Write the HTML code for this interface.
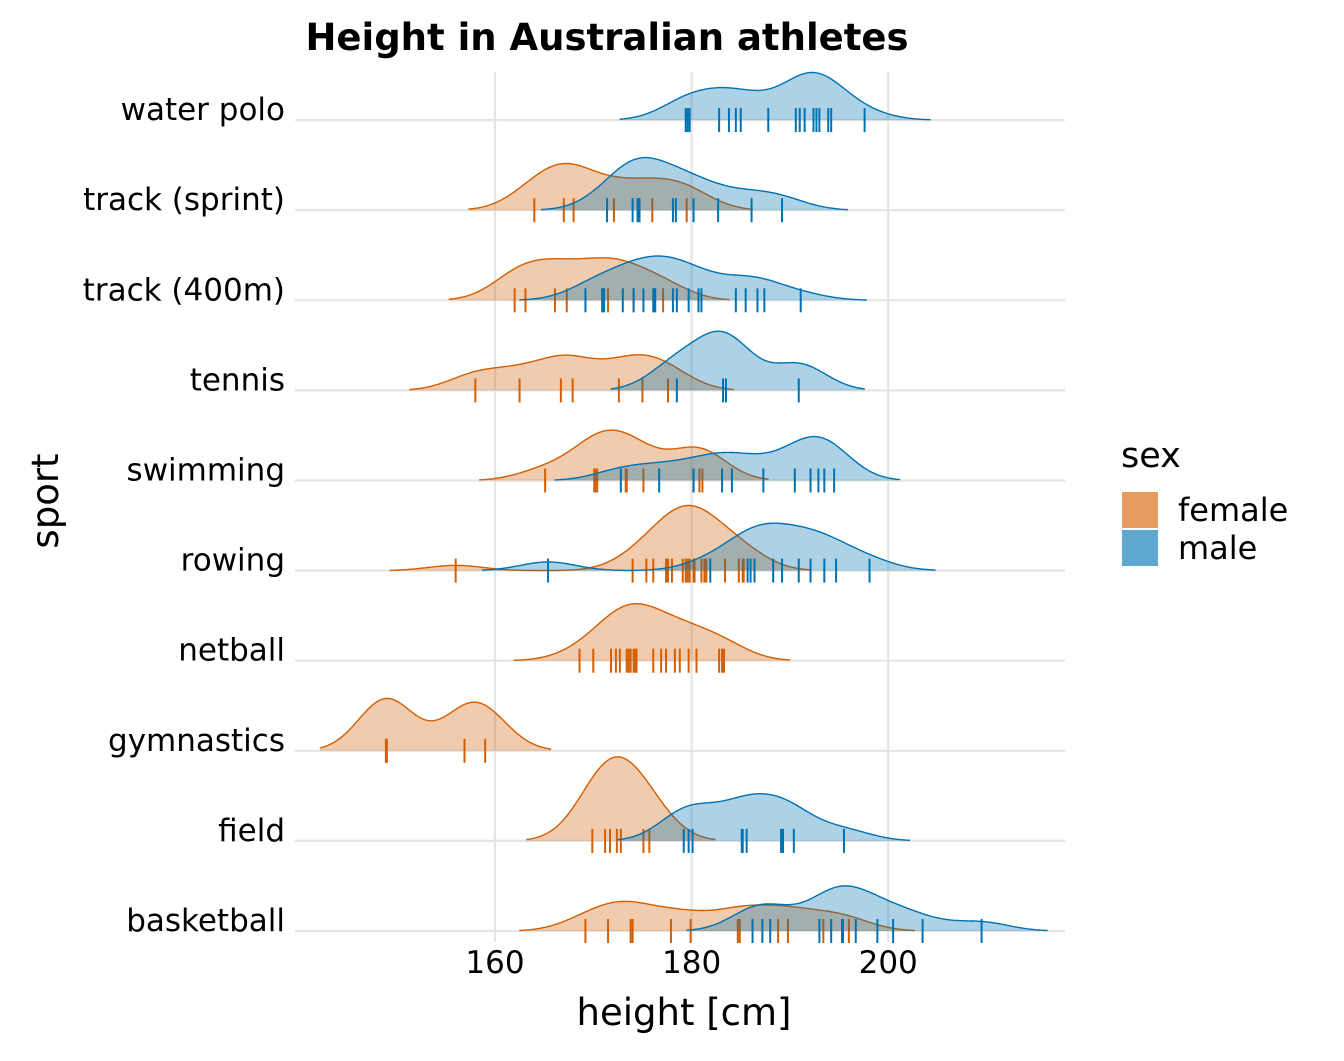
<!DOCTYPE html>
<html><head><meta charset="utf-8">
<style>
html,body{margin:0;padding:0;background:#fff;}
svg text{font-family:"DejaVu Sans","Liberation Sans",sans-serif;}
</style></head>
<body>
<svg id="chart" width="1344" height="1056" viewBox="0 0 1344 1056" xmlns="http://www.w3.org/2000/svg">
<rect width="1344" height="1056" fill="#fff"/>
<g id="grid"></g>
<g id="ridges"></g>
<g id="labels"></g>
<text x="607" y="50" text-anchor="middle" font-size="37" font-weight="bold">Height in Australian athletes</text>
<text x="684" y="1025" text-anchor="middle" font-size="37">height [cm]</text>
<text transform="translate(58,501) rotate(-90)" text-anchor="middle" font-size="37">sport</text>
<g>
<text x="1121" y="467" font-size="35">sex</text>
<rect x="1122" y="492" width="36" height="36" fill="#E69B5F"/>
<rect x="1122" y="530" width="36" height="36" fill="#5FA8D0"/>
<text x="1178" y="521" font-size="32">female</text>
<text x="1178" y="559" font-size="32">male</text>
</g>
</svg>
<script>
const sports = ["basketball","field","gymnastics","netball","rowing","swimming","tennis","track (400m)","track (sprint)","water polo"];
const xTicks = [160,180,200];
const female = [
 [169.2,171.5,173.8,174.0,177.9,179.9,184.7,184.9,188.8,189.8,193.4,196.0],
 [169.9,171.2,171.7,172.4,172.8,175.1,175.7],
 [148.9,149.0,156.9,159.0],
 [168.6,170.0,171.8,172.3,172.7,173.4,173.6,173.8,174.1,174.3,174.4,176.1,176.9,177.4,178.3,178.8,179.7,180.5,182.8,183.1,183.3],
 [156.0,174.0,175.4,176.1,177.4,177.6,178.0,179.1,179.4,179.6,179.8,180.2,180.3,181.0,181.3,181.5,183.4,184.8,185.2,185.3],
 [165.1,170.1,170.2,170.4,173.3,173.4,175.1,180.2,180.8,181.1],
 [158.0,162.5,166.7,167.9,172.6,175.0,177.6],
 [162.0,163.1,166.1,167.3,171.0,171.5,174.1,177.1],
 [164.0,167.0,168.0,172.1,176.0,179.5],
 []
];
const male = [
 [186.2,187.2,188.0,193.0,194.2,195.3,195.4,196.7,198.9,200.5,203.5,209.5],
 [179.2,179.7,180.1,185.1,185.2,185.6,189.1,189.3,190.4,195.5],
 [],
 [],
 [165.4,181.9,185.7,186.0,186.4,188.3,189.2,190.9,192.1,193.5,194.7,198.1],
 [172.8,176.7,180.2,183.1,184.1,187.3,190.5,192.1,192.9,193.5,194.5],
 [178.5,183.2,183.5,190.9],
 [169.2,170.9,171.1,173.0,174.1,175.1,176.1,176.2,176.3,178.1,178.5,179.7,180.7,181.0,184.5,185.5,186.7,187.4,191.1],
 [171.4,174.0,174.5,174.6,174.7,178.1,178.4,180.2,182.7,186.1,189.2],
 [179.4,179.6,179.8,182.8,183.8,184.5,185.0,187.8,190.6,191.0,191.5,192.4,192.7,193.0,193.9,194.2,197.6]
];
const bw = 2.8;
const cut = 2.4;
const NS="http://www.w3.org/2000/svg";
const xScale = v => 495 + (v-160)*9.83;
const yBase = i => 931 - i*90.1;
function kde(d, x){let s=0;for(const v of d){const z=(x-v)/bw;s+=Math.exp(-0.5*z*z);}return s/(d.length*bw*Math.sqrt(2*Math.PI));}
function mk(tag, attrs, parent){const e=document.createElementNS(NS,tag);for(const k in attrs)e.setAttribute(k,attrs[k]);parent.appendChild(e);return e;}
const grid=document.getElementById('grid'), ridges=document.getElementById('ridges'), labels=document.getElementById('labels');
let maxD=0;
[female,male].forEach(S=>S.forEach(d=>{if(!d.length)return;const lo=Math.min(...d)-cut*bw,hi=Math.max(...d)+cut*bw;for(let x=lo;x<=hi;x+=0.2)maxD=Math.max(maxD,kde(d,x));}));
const hScale = 84/maxD;
xTicks.forEach(t=>{
 const l=mk('line',{x1:xScale(t),x2:xScale(t),y1:72,y2:942,stroke:'#e5e5e5','stroke-width':2.2},grid);
 
 
 const tx=mk('text',{x:xScale(t),y:973,'text-anchor':'middle','font-size':31,fill:'#000'},labels);
 
 
 tx.textContent=t;
});
sports.forEach((s,i)=>{
 const y=yBase(i);
 const l=mk('line',{x1:295,x2:1065,y1:y,y2:y,stroke:'#e5e5e5','stroke-width':2.2},grid);
 
 
 const tx=mk('text',{x:285,y:y,'text-anchor':'end','font-size':31,fill:'#000'},labels);
 
 
 tx.textContent=s;
});
function drawRidge(d,i,fill,stroke,name){
 if(!d.length)return;
 const y=yBase(i);
 const g=mk('g',{},ridges);
 
 
 const lo=Math.min(...d)-cut*bw,hi=Math.max(...d)+cut*bw;
 let pts=[];
 for(let k=0;k<=200;k++){const x=lo+(hi-lo)*k/200;pts.push([xScale(x),y-kde(d,x)*hScale]);}
 const line=pts.map((p,k)=>(k?'L':'M')+p[0].toFixed(1)+' '+p[1].toFixed(1)).join('');
 const a=mk('path',{d:line+`L${xScale(hi)} ${y}L${xScale(lo)} ${y}Z`,fill:fill,'fill-opacity':0.32,stroke:'none'},g);
 
 
 const o=mk('path',{d:line,fill:'none',stroke:stroke,'stroke-width':1.4},g);
 
 
 d.forEach(v=>{
  const r=mk('line',{x1:xScale(v),x2:xScale(v),y1:y-12,y2:y+12,stroke:stroke,'stroke-width':2},g);
  
  
 });
}
sports.forEach((s,i)=>{
 const n=s.replace(/[^a-z0-9]+/g,'-');
 drawRidge(female[i],i,'#D55E00','#D55E00',n+'-female');
 drawRidge(male[i],i,'#0072B2','#0072B2',n+'-male');
});
</script>
</body></html>
